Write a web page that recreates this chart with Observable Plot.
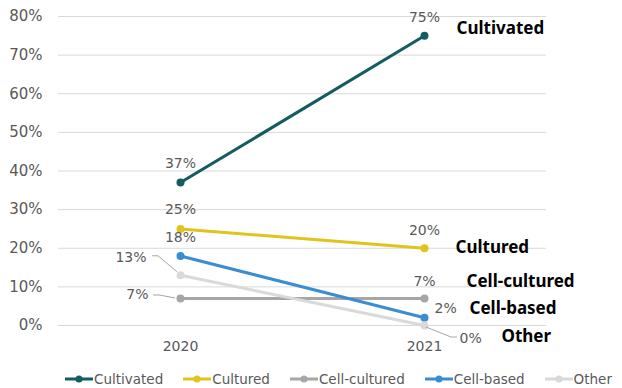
<!DOCTYPE html>
<html>
<head>
<meta charset="utf-8">
<script src="https://cdn.jsdelivr.net/npm/d3@7"></script>
<script src="https://cdn.jsdelivr.net/npm/@observablehq/plot@0.6"></script>
<style>
  html, body { margin: 0; padding: 0; background: #fff; }
  #chart { width: 622px; }
  .legend { display: flex; align-items: center; padding-left: 65px; padding-top: 4px; height: 26px;
            font-family: "DejaVu Sans", sans-serif; font-size: 13.5px; color: #595959; white-space: nowrap; }
  .legend .item { display: flex; align-items: center; margin-right: 20px; flex-shrink: 0; }
  .legend svg { margin-right: 1px; }
</style>
</head>
<body>
<div id="chart"></div>
<script>
// ---- data ----
const years = ["2020", "2021"];
const series = ["Cultivated", "Cultured", "Cell-cultured", "Cell-based", "Other"];
const cultivated = [37, 75];
const cultured = [25, 20];
const cellCultured = [7, 7];
const cellBased = [18, 2];
const other = [13, 0];
const yTicks = [0, 10, 20, 30, 40, 50, 60, 70, 80];

// ---- styling ----
const palette = ["#145c61", "#e0c31c", "#a6a6a6", "#3a8dd0", "#d9d9d9"];
const valuesBySeries = {
  "Cultivated": cultivated, "Cultured": cultured, "Cell-cultured": cellCultured,
  "Cell-based": cellBased, "Other": other
};
const rows = series.flatMap(s => years.map((y, i) => ({series: s, year: y, value: valuesBySeries[s][i]})));

// value label placements (pixel offsets from the point)
const valueLabelPlace = {
  "Cultivated-2020": {dx: 0, dy: -19, anchor: "middle"},
  "Cultivated-2021": {dx: 0, dy: -18, anchor: "middle"},
  "Cultured-2020": {dx: 0, dy: -19, anchor: "middle"},
  "Cultured-2021": {dx: 0, dy: -18, anchor: "middle"},
  "Cell-cultured-2020": {dx: -32, dy: -4, anchor: "end"},
  "Cell-cultured-2021": {dx: 0, dy: -17, anchor: "middle"},
  "Cell-based-2020": {dx: 0, dy: -18, anchor: "middle"},
  "Cell-based-2021": {dx: 10, dy: -9, anchor: "start"},
  "Other-2020": {dx: -34, dy: -18, anchor: "end"},
  "Other-2021": {dx: 35, dy: 13, anchor: "start"}
};
// series name placements at the 2021 end
const seriesLabelPlace = {
  "Cultivated": {dx: 32, dy: -7},
  "Cultured": {dx: 31, dy: -1},
  "Cell-cultured": {dx: 42, dy: -17},
  "Cell-based": {dx: 45, dy: -9},
  "Other": {dx: 77, dy: 11}
};
// leader lines (pixel polylines relative to the point)
const leaders = {
  "Other-2020": [[-28, -19], [-22, -19], [-3, -3]],
  "Cell-cultured-2020": [[-27, -3], [-21, -3], [-5, 0]],
  "Other-2021": [[2, 2], [27, 12], [33, 12]]
};

const font = "DejaVu Sans, sans-serif";
const marks = [
  Plot.ruleY(yTicks, {stroke: "#d9d9d9", strokeWidth: 1}),
  Plot.line(rows, {x: "year", y: "value", z: "series", stroke: "series", strokeWidth: 3}),
  Plot.dot(rows, {x: "year", y: "value", fill: "series", r: 4})
];
for (const r of rows) {
  const p = valueLabelPlace[`${r.series}-${r.year}`];
  marks.push(Plot.text([r], {x: "year", y: "value", text: d => d.value + "%",
    dx: p.dx, dy: p.dy, textAnchor: p.anchor, fill: "#595959", fontSize: 14}));
}
for (const s of series) {
  const p = seriesLabelPlace[s];
  const last = rows.filter(r => r.series === s && r.year === years[years.length - 1]);
  marks.push(Plot.text(last, {x: "year", y: "value", text: "series", dx: p.dx, dy: p.dy,
    textAnchor: "start", fill: "#000", fontWeight: "bold", fontSize: 17, fontFamily: "Noto Sans, sans-serif"}));
}

const plot = Plot.plot({
  width: 622,
  height: 362,
  marginLeft: 58,
  marginRight: 76,
  marginTop: 16,
  marginBottom: 37,
  style: {fontFamily: font, fontSize: "15px", color: "#595959", background: "#fff"},
  x: {type: "point", domain: years, padding: 0.5, tickSize: 0, tickPadding: 16, label: null},
  y: {domain: [0, 80], ticks: yTicks, tickFormat: d => d + "%", tickSize: 0, tickPadding: 16, label: null},
  color: {domain: series, range: palette},
  marks
});

const svg = d3.select(plot);
svg.selectAll('g[aria-label^="y-axis"]').style("font-size", "15px");
svg.selectAll('g[aria-label^="x-axis"]').style("font-size", "14px");

// leader lines, positioned through the plot's own scales
const sx = plot.scale("x"), sy = plot.scale("y");
const xOf = v => sx.apply(v) + (sx.bandwidth ? sx.bandwidth / 2 : 0);
for (const r of rows) {
  const key = `${r.series}-${r.year}`;
  if (!leaders[key]) continue;
  const px = xOf(r.year), py = sy.apply(r.value);
  svg.append("path")
    .attr("d", d3.line()(leaders[key].map(([a, b]) => [px + a, py + b])))
    .attr("fill", "none").attr("stroke", "#a6a6a6").attr("stroke-width", 1);
}

document.getElementById("chart").appendChild(plot);

// legend
const legend = document.createElement("div");
legend.className = "legend";
series.forEach((s, i) => {
  const item = document.createElement("div");
  item.className = "item";
  item.innerHTML = `<svg width="28" height="10"><line x1="0" x2="28" y1="5" y2="5" stroke="${palette[i]}" stroke-width="3"/><circle cx="14" cy="5" r="3.5" fill="${palette[i]}"/></svg><span>${s}</span>`;
  legend.appendChild(item);
});
document.getElementById("chart").appendChild(legend);
</script>
</body>
</html>
